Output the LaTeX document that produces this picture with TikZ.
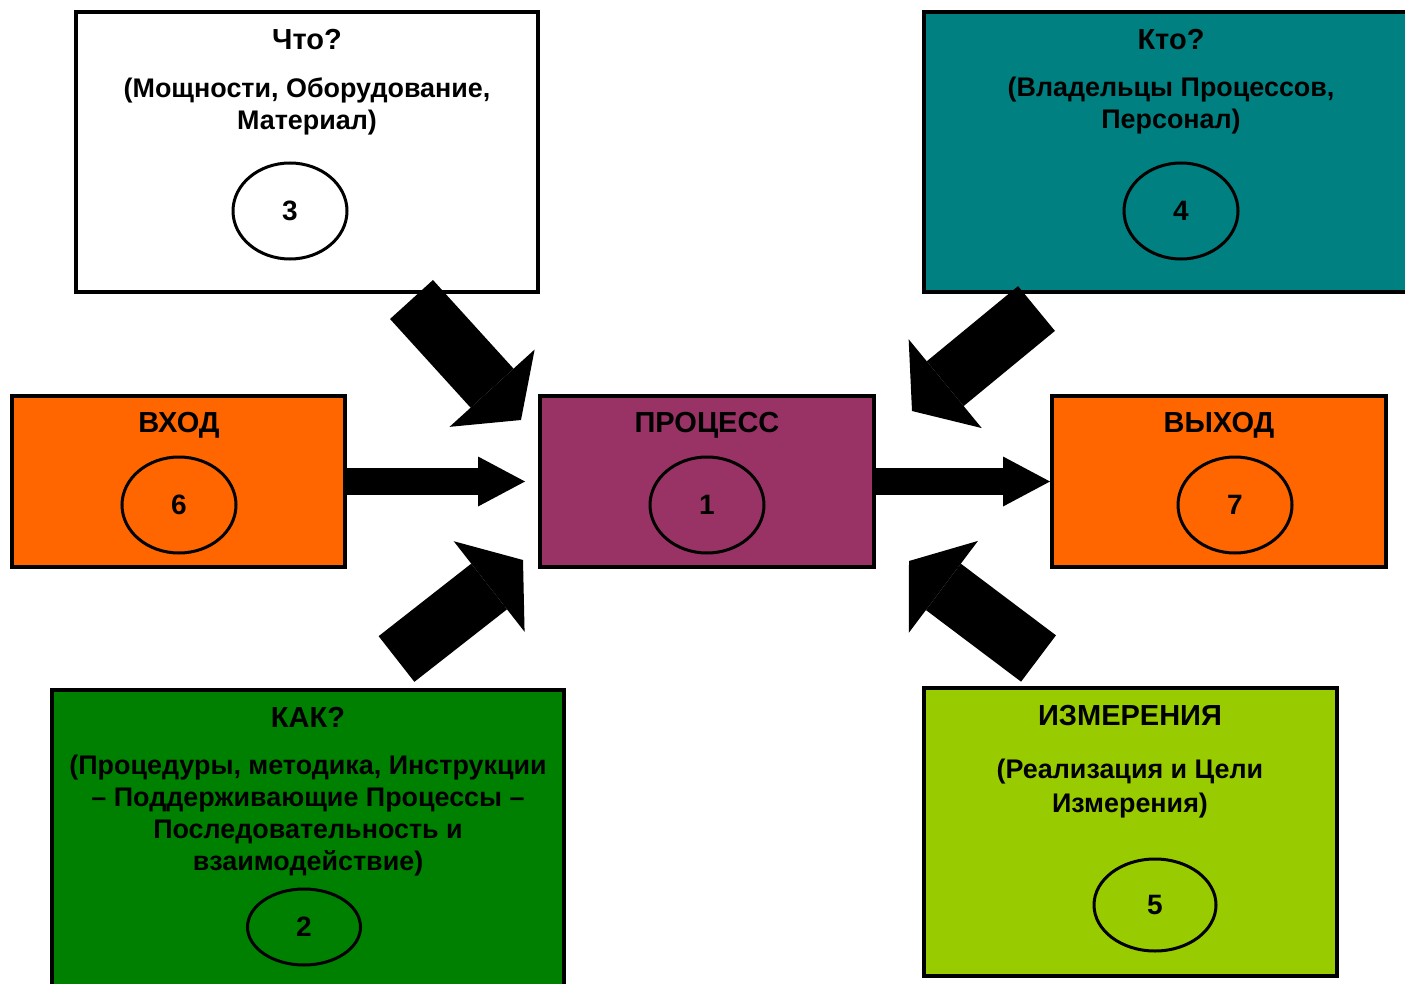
\documentclass[tikz,border=0pt]{standalone}
\usepackage{fontspec}
\setmainfont{Liberation Sans}
\usetikzlibrary{arrows.meta,positioning,shapes.geometric}

\definecolor{whoteal}{HTML}{008080}
\definecolor{ioorange}{HTML}{FF6600}
\definecolor{procplum}{HTML}{993366}
\definecolor{howgreen}{HTML}{008000}
\definecolor{measlime}{HTML}{99CC00}

\begin{document}
\begin{tikzpicture}[
        x=1pt, y=-1pt,
        box/.style={rectangle, draw, line width=4pt, inner sep=0pt},
        num/.style={ellipse, draw, line width=3pt, minimum width=114pt, minimum height=96pt, inner sep=0pt, font=\fontsize{28}{32}\selectfont\bfseries},
        title/.style={anchor=base, inner sep=0pt, font=\fontsize{29}{32}\selectfont\bfseries},
        txt/.style={align=center, inner sep=0pt, font=\fontsize{26.9}{32}\selectfont\bfseries},
        arrow/.style={line width=27pt, -{Triangle[width=50pt, length=47pt, line width=0pt]}},
        fat/.style={line width=58pt, -{Triangle[width=115pt, length=43pt, line width=0pt]}}
    ]
    \clip (0,0) rectangle (1405,984);

    % Boxes
    \node[box, fill=white, minimum width=462pt, minimum height=280pt] (what) at (307,152) {};
    \node[box, fill=whoteal, minimum width=494pt, minimum height=280pt] (who) at (1171,152) {};
    \node[box, fill=ioorange, minimum width=333pt, minimum height=171pt] (inp) at (178.5,481.5) {};
    \node[box, fill=procplum, minimum width=334pt, minimum height=171pt] (proc) at (707,481.5) {};
    \node[box, fill=ioorange, minimum width=334pt, minimum height=171pt] (out) at (1219,481.5) {};
    \node[box, fill=howgreen, minimum width=512pt, minimum height=318pt] (how) at (308,849) {};
    \node[box, fill=measlime, minimum width=413pt, minimum height=288pt] (meas) at (1130.5,832) {};

    % Texts
    \node[title] (what-t) at (307,49.5) {Что?};
    \node[txt] (what-d) at (307,106) {(Мощности, Оборудование,\\Материал)};
    \node[title] (who-t) at (1171,49.5) {Кто?};
    \node[txt] (who-d) at (1171,106) {(Владельцы Процессов,\\Персонал)};
    \node[title] (inp-t) at (179,432.5) {ВХОД};
    \node[title] (proc-t) at (707,432.5) {ПРОЦЕСС};
    \node[title] (out-t) at (1219,432.5) {ВЫХОД};
    \node[title] (how-t) at (308,727.5) {КАК?};
    \node[txt] (how-d) at (308,816) {(Процедуры, методика, Инструкции\\– Поддерживающие Процессы –\\Последовательность и\\взаимодействие)};
    \node[title] (meas-t) at (1130,725.5) {ИЗМЕРЕНИЯ};
    \node[txt] (meas-d) at (1130,789) {(Реализация и Цели\\[2pt]Измерения)};

    % Numbers
    \node[num] (n3) at (290,211) {3};
    \node[num] (n4) at (1181,211) {4};
    \node[num] (n6) at (179,505) {6};
    \node[num] (n1) at (707,505) {1};
    \node[num] (n7) at (1235,505) {7};
    \node[num, minimum width=113pt, minimum height=76pt] (n2) at (304,927) {2};
    \node[num, minimum width=122pt, minimum height=92pt] (n5) at (1155,905) {5};

    % Flow through the process
    \draw[arrow] (inp.east) -- ([xshift=-13pt]proc.west);
    \draw[arrow] (proc.east) -- (out.west);

    % Resources into the process
    \draw[fat] ([xshift=104.5pt, yshift=-5.5pt]what.south) -- ([xshift=-17pt, yshift=-26pt]proc.north west);
    \draw[fat] ([xshift=-134.5pt, yshift=-14.5pt]who.south) -- ([xshift=36pt, yshift=-17pt]proc.north east);
    \draw[fat] ([xshift=88.5pt, yshift=29pt]how.north) -- ([xshift=-15pt, yshift=9pt]proc.south west);
    \draw[fat] ([xshift=-92pt, yshift=27.5pt]meas.north) -- ([xshift=33pt, yshift=8pt]proc.south east);

\end{tikzpicture}
\end{document}
